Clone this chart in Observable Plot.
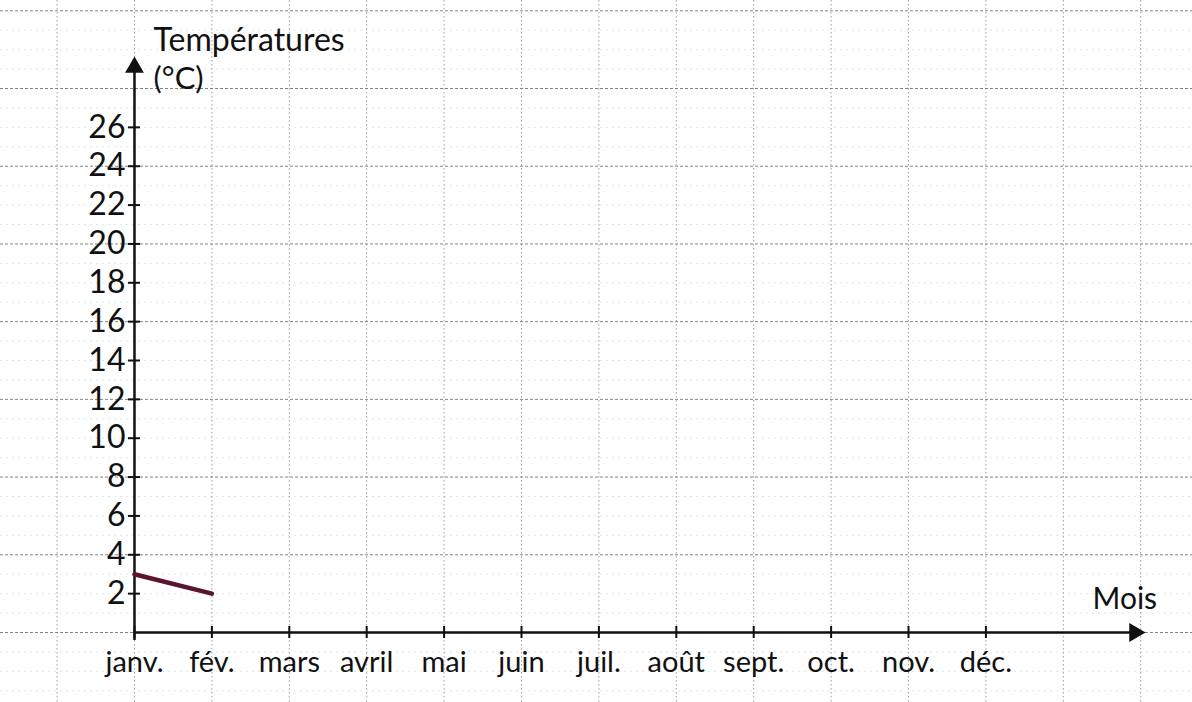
<!DOCTYPE html>
<html>
<head>
<meta charset="utf-8">
<script src="https://cdn.jsdelivr.net/npm/d3@7"></script>
<script src="https://cdn.jsdelivr.net/npm/@observablehq/plot@0.6"></script>
<style>
  html, body { margin: 0; padding: 0; background: #fff; }
  #chart svg { display: block; }
</style>
</head>
<body>
<div id="chart"></div>
<script>
// ---- data ----
const months = ["janv.", "fév.", "mars", "avril", "mai", "juin", "juil.", "août", "sept.", "oct.", "nov.", "déc."];
const temperatures = [3, 2];               // janv., fév.
const yTicks = [2, 4, 6, 8, 10, 12, 14, 16, 18, 20, 22, 24, 26];
const yTitleLine1 = "Températures";
const yTitleLine2 = "(°C)";
const xTitle = "Mois";
// graph-paper grid
const gridX = d3.range(-1, 14);
const gridMajorY = d3.range(-4, 33, 4);
const gridMinorY = d3.range(-3, 33).filter(v => v % 4 !== 0);
const yAxisTop = 29.4;
const xAxisEnd = 13;

const monthIdx = months.map((m, i) => i);
const lineData = temperatures.map((t, i) => ({i, t}));

const font = "Lato, 'Open Sans', sans-serif";

const chart = Plot.plot({
  width: 1192,
  height: 702,
  margin: 0,
  style: {background: "#fff", fontFamily: font},
  x: {domain: [-1.731, 13.669], axis: null},
  y: {domain: [-3.603, 32.53], axis: null},
  marks: [
    // minor horizontal grid
    Plot.ruleY(gridMinorY, {stroke: "#8fc3cf", strokeOpacity: 0.35, strokeDasharray: "2,4", strokeWidth: 1}),
    // major horizontal grid
    Plot.ruleY(gridMajorY, {stroke: "#666", strokeOpacity: 0.8, strokeDasharray: "3,2", strokeWidth: 1}),
    // vertical grid
    Plot.ruleX(gridX, {stroke: "#777", strokeOpacity: 0.7, strokeDasharray: "1.5,2.5", strokeWidth: 1}),
    // axes
    Plot.ruleY([0], {x1: 0, x2: xAxisEnd, stroke: "#111", strokeWidth: 2.5, insetRight: 8}),
    Plot.ruleX([0], {y1: 0, y2: yAxisTop, stroke: "#111", strokeWidth: 2.5, insetTop: 8}),
    Plot.dot([0], {x: d => xAxisEnd, y: 0, symbol: "triangle", r: 7, fill: "#111", rotate: 90, dx: -6}),
    Plot.dot([0], {x: 0, y: d => yAxisTop, symbol: "triangle", r: 7, fill: "#111", dy: 6}),
    // y ticks
    Plot.ruleY(yTicks, {x1: 0, x2: 0, insetLeft: -6, insetRight: -6, stroke: "#111", strokeWidth: 2}),
    Plot.text(yTicks, {x: 0, y: d => d, text: d => String(d), textAnchor: "end", dx: -9, fontSize: 32, fill: "#111"}),
    // x ticks
    Plot.ruleX(monthIdx, {y1: 0, y2: 0, insetTop: -6, insetBottom: -6, stroke: "#111", strokeWidth: 2}),
    Plot.text(monthIdx, {x: d => d, y: 0, text: d => months[d], textAnchor: "middle", lineAnchor: "middle", dy: 30, fontSize: 29, fill: "#111"}),
    // data line
    Plot.line(lineData, {x: "i", y: "t", stroke: "#5a1430", strokeWidth: 4.5, strokeLinecap: "round"}),
    // titles
    Plot.text([yTitleLine1], {frameAnchor: "top-left", dx: 153, dy: 50, textAnchor: "start", lineAnchor: "bottom", fontSize: 32, fill: "#111"}),
    Plot.text([yTitleLine2], {frameAnchor: "top-left", dx: 153, dy: 66, textAnchor: "start", lineAnchor: "top", fontSize: 31, fill: "#111"}),
    Plot.text([xTitle], {frameAnchor: "top-left", dx: 1092, dy: 587, textAnchor: "start", lineAnchor: "top", fontSize: 30, fill: "#111"})
  ]
});

document.getElementById("chart").append(chart);
</script>
</body>
</html>
